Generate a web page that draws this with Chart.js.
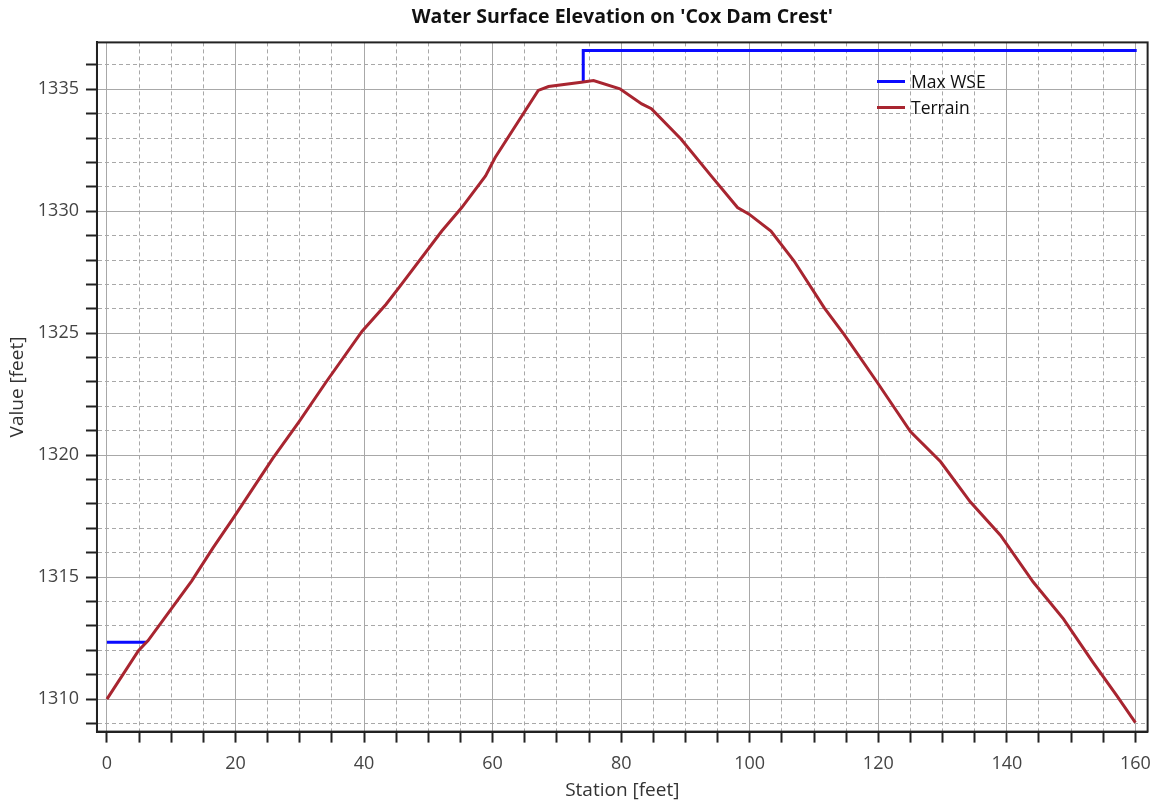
<!DOCTYPE html>
<html>
<head>
<meta charset="utf-8">
<title>Water Surface Elevation on 'Cox Dam Crest'</title>
<script src="https://cdn.jsdelivr.net/npm/chart.js@4/dist/chart.umd.min.js"></script>
<style>
  html, body { margin: 0; padding: 0; background: #fff; }
  #wrap { position: relative; width: 1161px; height: 805px; }
  #legend { position: absolute; left: 877px; top: 68px; font: 17.5px "Open Sans", sans-serif; color: #111; }
  #legend div { display: flex; align-items: center; height: 26px; }
  #legend span.sw { display: inline-block; width: 28px; height: 3px; margin-right: 6px; }
</style>
</head>
<body>
<div id="wrap">
  <canvas id="c" width="1161" height="805"></canvas>
  <div id="legend"></div>
</div>
<script>
// values
const terrainStation = [0, 4.9, 6.4, 13.2, 16.5, 19.6, 25.8, 29.9, 34.1, 39.7, 43.4, 45.4, 52.1, 55.2, 58.9, 60.4,
  67.1, 68.7, 73.8, 75.7, 79.8, 83.2, 84.7, 89.3, 94.0, 98.1, 99.9, 103.3, 106.9, 111.6, 114.7, 119.8, 125.0,
  129.7, 134.3, 139.0, 144.1, 148.8, 153.4, 157.1, 160.0];
const terrainElev = [1310.0, 1311.99, 1312.4, 1314.85, 1316.2, 1317.4, 1319.87, 1321.38, 1323.0, 1325.08, 1326.18,
  1326.86, 1329.19, 1330.15, 1331.45, 1332.2, 1334.95, 1335.11, 1335.29, 1335.36, 1335.02, 1334.4, 1334.2,
  1332.96, 1331.45, 1330.15, 1329.88, 1329.19, 1327.96, 1326.04, 1324.94, 1323.0, 1320.97, 1319.73, 1318.09,
  1316.72, 1314.8, 1313.29, 1311.51, 1310.14, 1309.04];
// max WSE: wet at the left toe, then over the crest from ~74 ft on (null = gap)
const wseStation = [0, 6.1, 6.1, 74.1, 74.1, 160.2];
const wseElev = [1312.33, 1312.33, null, 1335.29, 1336.59, 1336.59];

const xTicks = [0, 5, 10, 15, 20, 25, 30, 35, 40, 45, 50, 55, 60, 65, 70, 75, 80, 85, 90, 95, 100, 105, 110, 115,
  120, 125, 130, 135, 140, 145, 150, 155, 160];
const yTicks = [1309, 1310, 1311, 1312, 1313, 1314, 1315, 1316, 1317, 1318, 1319, 1320, 1321, 1322, 1323, 1324,
  1325, 1326, 1327, 1328, 1329, 1330, 1331, 1332, 1333, 1334, 1335, 1336];
const xMajor = 20, yMajor = 5;

const FONT = '"Open Sans", sans-serif';
const pts = (xs, ys) => xs.map((x, i) => ({ x, y: ys[i] }));

const datasets = [
  { label: "Max WSE", data: pts(wseStation, wseElev), borderColor: "#0a0aff", borderWidth: 3, order: 2 },
  { label: "Terrain", data: pts(terrainStation, terrainElev), borderColor: "#a82530", borderWidth: 3, order: 1 },
];
datasets.forEach((d) => Object.assign(d, { pointRadius: 0, tension: 0, spanGaps: false, fill: false }));

const isMajor = (v, step) => Math.abs(v / step - Math.round(v / step)) < 1e-6;
const TL = 11;

function gridFor(step, axis) {
  const minor = (c) => c.tick && !isMajor(c.tick.value, step);
  return {
    color: (c) => (minor(c) ? "#d4d4d4" : "#a8a8a8"),
    lineWidth: 1,
    tickLength: TL,
    tickColor: "#222",
    tickWidth: 2,
    // minor ticks: only the half next to the axis line is drawn
    // (x ticks run from the axis outwards, y ticks from the outside in)
    tickBorderDash: (c) => (minor(c) ? [6, 30] : []),
    tickBorderDashOffset: (c) => (minor(c) && axis === "y" ? 36 - (TL - 6) : 0),
  };
}

// frame round the plot area
const frame = {
  id: "frame",
  afterDraw(chart) {
    const { ctx, chartArea: a } = chart;
    ctx.save();
    ctx.strokeStyle = "#222";
    ctx.lineWidth = 2;
    ctx.strokeRect(a.left, a.top, a.right - a.left, a.bottom - a.top);
    ctx.restore();
  },
};

const chart = new Chart(document.getElementById("c"), {
  type: "line",
  data: { datasets },
  plugins: [frame],
  options: {
    responsive: false,
    animation: false,
    layout: { padding: { top: 4, right: 10, bottom: 3, left: 6 } },
    plugins: {
      legend: { display: false },
      tooltip: { enabled: false },
      title: {
        display: true,
        text: "Water Surface Elevation on 'Cox Dam Crest'",
        fullSize: false,
        color: "#111",
        font: { family: FONT, size: 19.5, weight: "bold" },
        padding: { top: 2, bottom: 13 },
      },
    },
    scales: {
      x: {
        type: "linear",
        min: -1.55,
        max: 161.9,
        afterBuildTicks: (s) => { s.ticks = xTicks.map((v) => ({ value: v })); },
        ticks: {
          autoSkip: false,
          maxRotation: 0,
          color: "#444",
          font: { family: FONT, size: 18 },
          padding: 10,
          callback: (v) => (isMajor(v, xMajor) ? String(v) : ""),
        },
        grid: gridFor(5, "x"),
        border: { color: "#222", width: 2, dash: (c) => (c.tick && !isMajor(c.tick.value, xMajor) ? [4, 3] : []) },
        title: { display: true, text: "Station [feet]", color: "#333", font: { family: FONT, size: 19 }, padding: { top: -5, bottom: 0 } },
      },
      y: {
        type: "linear",
        min: 1308.67,
        max: 1336.92,
        afterBuildTicks: (s) => { s.ticks = yTicks.map((v) => ({ value: v })); },
        ticks: {
          autoSkip: false,
          color: "#444",
          font: { family: FONT, size: 18 },
          padding: 7,
          callback: (v) => (isMajor(v, yMajor) ? String(v) : ""),
        },
        grid: gridFor(1, "y"),
        border: { color: "#222", width: 2, dash: (c) => (c.tick && !isMajor(c.tick.value, yMajor) ? [4, 3] : []) },
        title: { display: true, text: "Value [feet]", color: "#333", font: { family: FONT, size: 19 }, padding: { top: 0, bottom: 2 } },
      },
    },
  },
});

// legend drawn as html, top right inside the plot
document.getElementById("legend").innerHTML = datasets
  .map((d) => `<div><span class="sw" style="background:${d.borderColor}"></span>${d.label}</div>`)
  .join("");
</script>
</body>
</html>
